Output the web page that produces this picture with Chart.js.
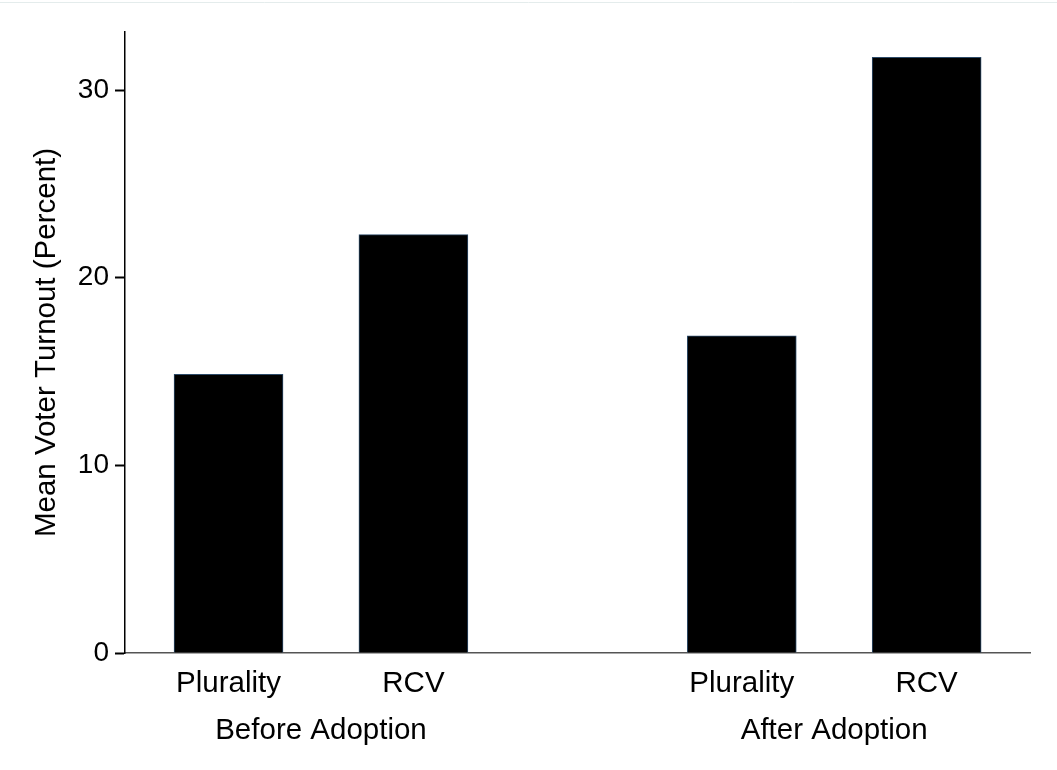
<!DOCTYPE html>
<html lang="en">
<head>
<meta charset="UTF-8">
<title>Mean Voter Turnout</title>
<script src="https://cdn.jsdelivr.net/npm/chart.js"></script>
<style>
  html, body { margin: 0; padding: 0; background: #fff; }
  #wrap { width: 1057px; height: 770px; position: relative; }
</style>
</head>
<body>
<div id="wrap"><canvas id="turnoutChart"></canvas></div>
<script>
  // values
  const groups = ['Before Adoption', 'After Adoption'];
  const systems = ['Plurality', 'RCV'];
  const turnoutBefore = [14.85, 22.3];
  const turnoutAfter = [16.9, 31.75];
  const yTicks = [0, 10, 20, 30];

  // layout: bars sit one slot apart, groups are further apart
  const groupStep = 2.776;
  const xMin = 0.44, xMax = 5.335;

  const series = [turnoutBefore, turnoutAfter];
  const points = [];
  const tickLabels = [];
  groups.forEach((g, gi) => {
    systems.forEach((s, si) => {
      points.push({ x: 1 + gi * groupStep + si, y: series[gi][si] });
      tickLabels.push(s);
    });
  });
  const groupCenters = groups.map((g, gi) => 1.5 + gi * groupStep);

  const family = '"Liberation Sans", Arial, sans-serif';
  const tickFont = { family, size: 28 };
  const textFont = { family, size: 29.5 };

  const frame = {
    id: 'frame',
    beforeDraw(chart) {
      const ctx = chart.ctx;
      ctx.save();
      ctx.fillStyle = '#fff';
      ctx.fillRect(0, 0, chart.width, chart.height);
      ctx.strokeStyle = '#e4ecec';
      ctx.lineWidth = 1;
      ctx.beginPath();
      ctx.moveTo(0, 2.5);
      ctx.lineTo(chart.width, 2.5);
      ctx.stroke();
      ctx.restore();
    }
  };

  new Chart(document.getElementById('turnoutChart'), {
    type: 'bar',
    data: {
      datasets: [{
        data: points,
        backgroundColor: '#000',
        borderColor: '#2c4a68',
        borderWidth: 1,
        barThickness: 109
      }]
    },
    options: {
      responsive: true,
      maintainAspectRatio: false,
      animation: false,
      layout: { padding: { top: 32, right: 27, left: 0, bottom: 0 } },
      plugins: { legend: { display: false }, tooltip: { enabled: false } },
      scales: {
        x: {
          type: 'linear', min: xMin, max: xMax, position: 'bottom', offset: false,
          grid: { display: false },
          border: { color: '#555', width: 1.5 },
          afterBuildTicks: s => { s.ticks = points.map(p => ({ value: p.x })); },
          ticks: {
            font: textFont, color: '#000', padding: 5, autoSkip: false, maxRotation: 0,
            callback: (v, i) => tickLabels[i]
          },
          afterFit: s => { s.height = 47; }
        },
        x2: {
          type: 'linear', min: xMin, max: xMax, position: 'bottom', offset: false,
          grid: { display: false },
          border: { display: false },
          afterBuildTicks: s => { s.ticks = groupCenters.map(v => ({ value: v })); },
          ticks: {
            font: textFont, color: '#000', padding: 5, autoSkip: false, maxRotation: 0,
            callback: (v, i) => groups[i]
          },
          afterFit: s => { s.height = 70; }
        },
        y: {
          min: 0, max: 33.1,
          afterBuildTicks: s => { s.ticks = yTicks.map(v => ({ value: v })); },
          grid: { drawOnChartArea: false, tickLength: 10, tickWidth: 2, tickColor: '#000' },
          border: { color: '#000', width: 1.5 },
          ticks: { font: tickFont, color: '#000', padding: 6 },
          title: {
            display: true, text: 'Mean Voter Turnout (Percent)',
            font: textFont, color: '#000', padding: { top: 29, bottom: 0 }
          },
          afterFit: s => { s.width = 125; }
        }
      }
    },
    plugins: [frame]
  });
</script>
</body>
</html>
